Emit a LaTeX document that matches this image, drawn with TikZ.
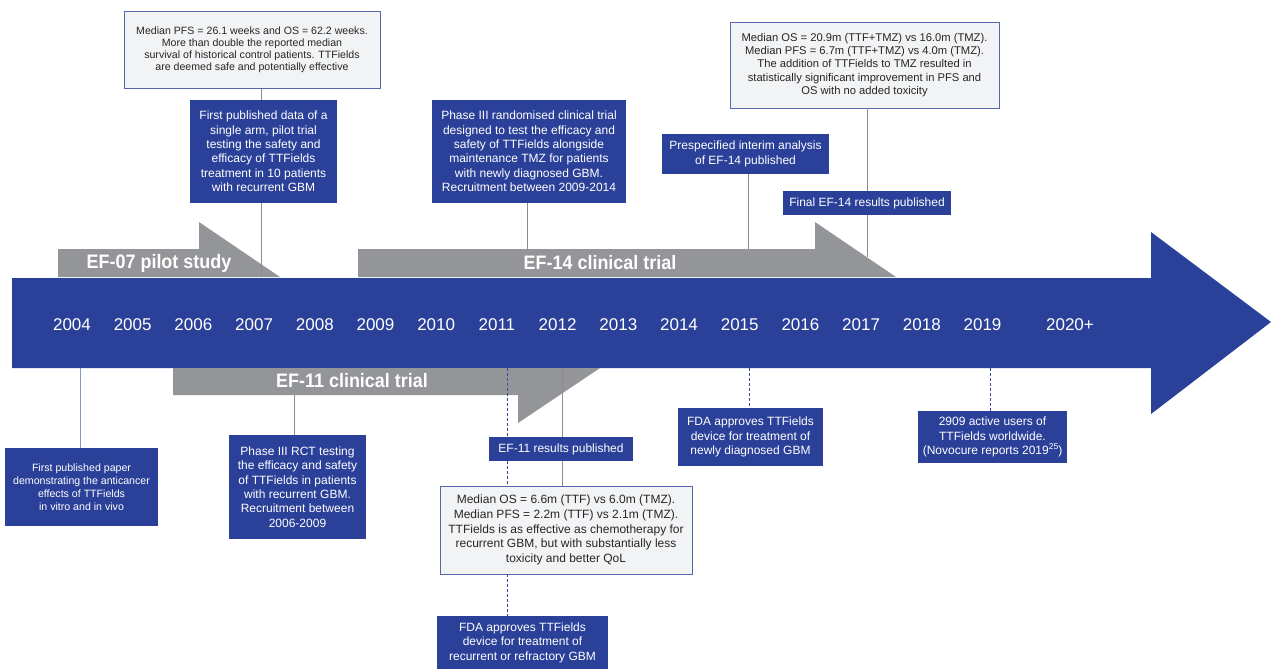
\documentclass[tikz,border=0pt]{standalone}
\usepackage{fontspec}
\setmainfont{Liberation Sans}
\definecolor{tlblue}{HTML}{2B4098}
\definecolor{trialgray}{HTML}{939598}
\definecolor{notegray}{HTML}{F2F3F5}
\definecolor{linkgray}{HTML}{8C8C8C}
\definecolor{linkblue}{HTML}{8796D3}
\definecolor{dashblue}{HTML}{3A4C9E}

\begin{document}
\begin{tikzpicture}[x=1pt,y=-1pt,
  event/.style={fill=tlblue, text=white, align=center, inner sep=0pt, font=\fontsize{12}{14.4}\selectfont},
  result/.style={fill=notegray, draw=tlblue!80, line width=0.7pt, align=center, inner sep=0pt, text=black!85},
  trial/.style={text=white, xscale=0.92, font=\fontsize{19.5}{21}\selectfont\bfseries},
  year/.style={text=white, font=\fontsize{17}{20}\selectfont},
  link/.style={draw=linkgray, line width=0.8pt},
  dlink/.style={draw=dashblue, line width=0.8pt, dash pattern=on 3pt off 2pt}]
\useasboundingbox (0,0) rectangle (1271,669);

% timeline and trial arrows
\fill[tlblue] (12,278) -- (1151,278) -- (1151,232) -- (1271,322) -- (1151,414) -- (1151,368) -- (12,368) -- cycle;
\fill[trialgray] (58,249) -- (199,249) -- (199,222) -- (280,277) -- (58,277) -- cycle;
\fill[trialgray] (358,249) -- (815,249) -- (815,222) -- (896,277) -- (358,277) -- cycle;
\fill[trialgray] (173,368) -- (600,368) -- (518,423) -- (518,395) -- (173,395) -- cycle;
\node[trial] (ef07) at (159,263) {EF-07 pilot study};
\node[trial] (ef14) at (600,263) {EF-14 clinical trial};
\node[trial] (ef11) at (352,381) {EF-11 clinical trial};

\foreach \yr [count=\i from 0] in {2004,2005,2006,2007,2008,2009,2010,2011,2012,2013,2014,2015,2016,2017,2018,2019}
  \node[year] (y\yr) at ({72+60.7*\i},325) {\yr};
\node[year] (y2020) at (1070,325) {2020+};

% above the timeline
\node[result, minimum width=256pt, minimum height=77pt, font=\fontsize{10.6}{12}\selectfont] (pilotres) at (252,50)
  {Median PFS = 26.1 weeks and OS = 62.2 weeks.\\ More than double the reported median\\ survival of historical control patients. TTFields\\ are deemed safe and potentially effective};
\node[event, minimum width=147pt, minimum height=103pt] (pilot) at (263.5,151.5)
  {First published data of a\\ single arm, pilot trial\\ testing the safety and\\ efficacy of TTFields\\ treatment in 10 patients\\ with recurrent GBM};
\node[event, minimum width=194pt, minimum height=103pt] (efxiv) at (529,151.5)
  {Phase III randomised clinical trial\\ designed to test the efficacy and\\ safety of TTFields alongside\\ maintenance TMZ for patients\\ with newly diagnosed GBM.\\ Recruitment between 2009-2014};
\node[event, minimum width=167pt, minimum height=40pt] (interim) at (745.5,154)
  {Prespecified interim analysis\\ of EF-14 published};
\node[event, minimum width=168pt, minimum height=24pt] (final) at (867,203)
  {Final EF-14 results published};
\node[result, minimum width=269pt, minimum height=86pt, font=\fontsize{11.2}{13.3}\selectfont] (finalres) at (864.5,65)
  {Median OS = 20.9m (TTF+TMZ) vs 16.0m (TMZ).\\ Median PFS = 6.7m (TTF+TMZ) vs 4.0m (TMZ).\\ The addition of TTFields to TMZ resulted in\\ statistically significant improvement in PFS and\\ OS with no added toxicity};

% below the timeline
\node[event, minimum width=153pt, minimum height=78pt, font=\fontsize{10.6}{13}\selectfont] (paper) at (81.5,487)
  {First published paper\\ demonstrating the anticancer\\ effects of TTFields\\ in vitro and in vivo};
\node[event, minimum width=137pt, minimum height=104pt] (rct) at (297.5,487)
  {Phase III RCT testing\\ the efficacy and safety\\ of TTFields in patients\\ with recurrent GBM.\\ Recruitment between\\ 2006-2009};
\node[event, minimum width=144pt, minimum height=24pt] (efxires) at (561,449)
  {EF-11 results published};
\node[result, minimum width=252pt, minimum height=88pt, font=\fontsize{12}{14.7}\selectfont] (efxidata) at (566,530)
  {Median OS = 6.6m (TTF) vs 6.0m (TMZ).\\ Median PFS = 2.2m (TTF) vs 2.1m (TMZ).\\ TTFields is as effective as chemotherapy for\\ recurrent GBM, but with substantially less\\ toxicity and better QoL};
\node[event, minimum width=171pt, minimum height=53pt] (fdarec) at (522.5,642.5)
  {FDA approves TTFields\\ device for treatment of\\ recurrent or refractory GBM};
\node[event, minimum width=145pt, minimum height=58pt] (fdanew) at (750.5,437)
  {FDA approves TTFields\\ device for treatment of\\ newly diagnosed GBM};
\node[event, minimum width=149pt, minimum height=52pt] (users) at (992.5,437)
  {2909 active users of\\ TTFields worldwide.\\ (Novocure reports 2019\raisebox{0.85ex}{\fontsize{8.5}{9}\selectfont 25})};

% connectors
\coordinate (a07) at (261,277);
\coordinate (a14) at (527,249);
\coordinate (aint) at (748,249);
\coordinate (afin) at (867,257);
\coordinate (b04) at (80,368);
\coordinate (b11) at (294,395);
\coordinate (bres) at (562,368);
\coordinate (bfda) at (507,368);
\coordinate (bnew) at (749,368);
\coordinate (busr) at (990,368);
\draw[link] (pilotres.south -| a07) -- (pilot.north -| a07);
\draw[link] (pilot.south -| a07) -- (a07);
\draw[link] (efxiv.south -| a14) -- (a14);
\draw[link] (interim.south -| aint) -- (aint);
\draw[link] (finalres.south -| afin) -- (final.north -| afin);
\draw[link] (final.south -| afin) -- (afin);
\draw[draw=linkblue, line width=1pt] (b04) -- (paper.north -| b04);
\draw[link] (b11) -- (rct.north -| b11);
\draw[link] (bres) -- (efxires.north -| bres);
\draw[link] (efxires.south -| bres) -- (efxidata.north -| bres);
\draw[dlink] (bfda) -- (efxires.north -| bfda);
\draw[dlink] (efxires.south -| bfda) -- (efxidata.north -| bfda);
\draw[dlink] (efxidata.south -| bfda) -- (fdarec.north -| bfda);
\draw[dlink] (bnew) -- (fdanew.north -| bnew);
\draw[dlink] (busr) -- (users.north -| busr);
\end{tikzpicture}
\end{document}
